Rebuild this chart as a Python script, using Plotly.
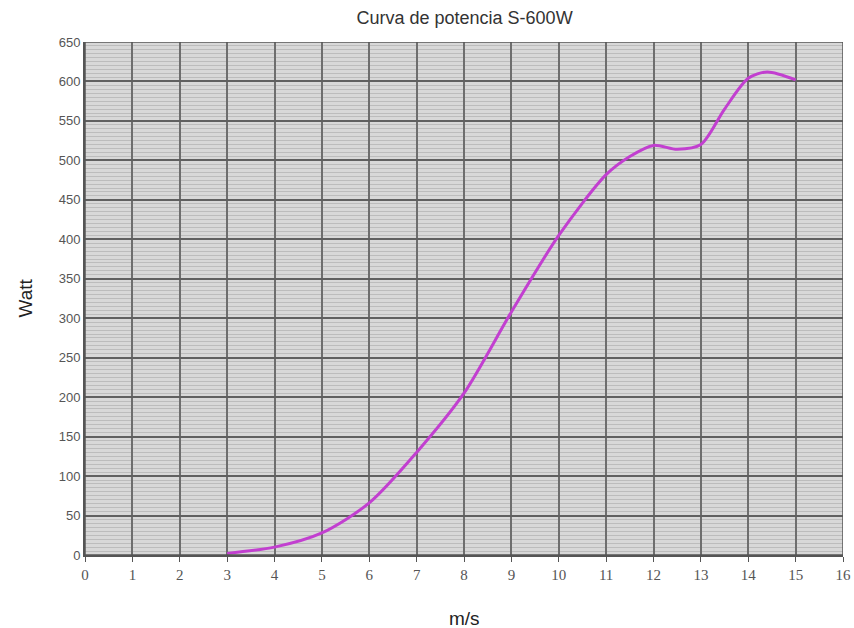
import plotly.graph_objects as go

wind_speed = [3, 4, 5, 6, 7, 8, 9, 10, 11, 11.5, 12, 12.5, 13, 13.5, 14, 14.4, 15]
power_w = [2, 10, 28, 66, 130, 205, 308, 405, 482, 505, 519, 514, 520, 565, 604, 612, 602]

x_ticks = list(range(0, 17))
y_ticks = list(range(0, 651, 50))

fig = go.Figure()
fig.add_trace(go.Scatter(
    x=wind_speed, y=power_w, mode="lines",
    line=dict(color="#c23fd0", width=3, shape="spline", smoothing=0.8),
    hoverinfo="x+y", showlegend=False,
))

fig.update_layout(
    width=854, height=628,
    margin=dict(l=85, r=11, t=42, b=73, autoexpand=False),
    paper_bgcolor="white",
    plot_bgcolor="#d8d8d8",
    title=dict(text="Curva de potencia S-600W", x=0.544, xanchor="center", y=0.972, yanchor="middle",
               font=dict(family="Liberation Sans, Arial", size=18, color="#333333")),
    xaxis=dict(
        range=[0, 16], tickvals=x_ticks, ticktext=[str(v) for v in x_ticks],
        showgrid=True, gridcolor="#6e6e6e", gridwidth=1.5, automargin=False,
        zeroline=False, showline=True, linecolor="#555555", linewidth=2, mirror=False,
        ticks="outside", ticklen=5, tickcolor="#555555",
        tickfont=dict(family="Liberation Serif, Times New Roman", size=15, color="#555555"),
    ),
    yaxis=dict(
        range=[0, 650], tickvals=y_ticks, ticktext=[str(v) for v in y_ticks],
        showgrid=True, gridcolor="#606060", gridwidth=2, automargin=False,
        zeroline=False, showline=True, linecolor="#555555", linewidth=2,
        ticks="", tickfont=dict(family="Liberation Sans, Arial", size=13, color="#555555"),
        minor=dict(dtick=5, showgrid=True, gridcolor="#bcbcbc", gridwidth=1),
    ),
)
fig.add_annotation(text="m/s", xref="paper", yref="paper", x=0.5, y=0, yshift=-63,
                   xanchor="center", yanchor="middle", showarrow=False,
                   font=dict(family="Liberation Sans, Arial", size=19, color="#222222"))
fig.add_annotation(text="Watt", xref="paper", yref="paper", x=0, y=0.5, xshift=-60,
                   xanchor="center", yanchor="middle", showarrow=False, textangle=-90,
                   font=dict(family="Liberation Sans, Arial", size=19, color="#222222"))
fig.add_shape(type="rect", xref="x", yref="y", x0=0, x1=16, y0=0, y1=650,
              line=dict(color="#555555", width=1.5), layer="above")

fig.write_html("out.html", config={"displayModeBar": False},
               post_script="document.body.style.margin='0';document.body.style.overflow='hidden';")
